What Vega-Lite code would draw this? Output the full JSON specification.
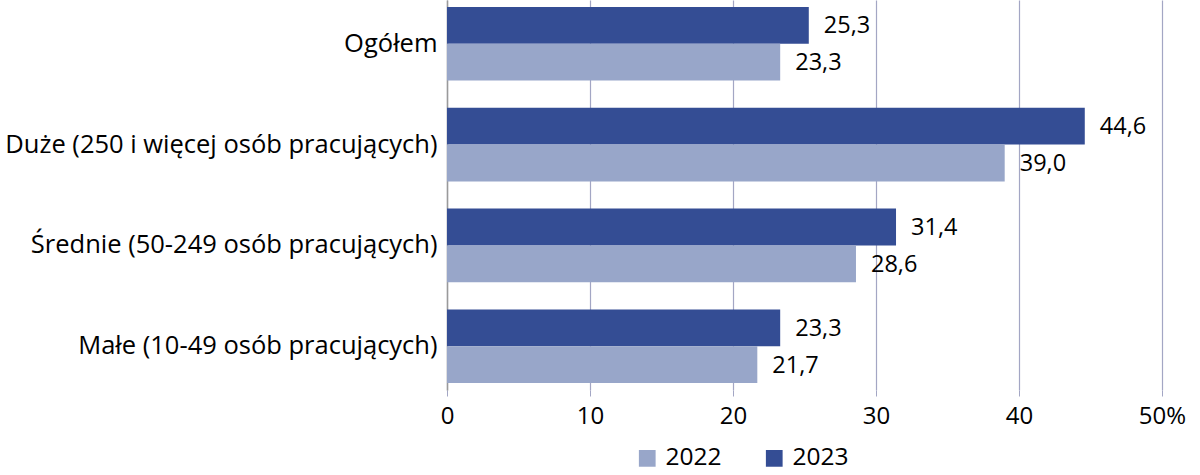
{
  "$schema": "https://vega.github.io/schema/vega-lite/v6.json",
  "autosize": {"type": "none"},
  "padding": {"left": 447, "top": 0, "right": 38, "bottom": 85},
  "width": 715,
  "height": 390,
  "background": "white",
  "config": {
    "view": {"stroke": null},
    "font": "Open Sans",
    "locale": {"number": {"decimal": ",", "thousands": " ", "grouping": [3], "currency": ["", " zł"]}}
  },
  "data": {
    "values": [
      {"kat": "Ogółem", "rok": "2023", "v": 25.3},
      {"kat": "Ogółem", "rok": "2022", "v": 23.3},
      {"kat": "Duże (250 i więcej osób pracujących)", "rok": "2023", "v": 44.6},
      {"kat": "Duże (250 i więcej osób pracujących)", "rok": "2022", "v": 39.0},
      {"kat": "Średnie (50-249 osób pracujących)", "rok": "2023", "v": 31.4},
      {"kat": "Średnie (50-249 osób pracujących)", "rok": "2022", "v": 28.6},
      {"kat": "Małe (10-49 osób pracujących)", "rok": "2023", "v": 23.3},
      {"kat": "Małe (10-49 osób pracujących)", "rok": "2022", "v": 21.7}
    ]
  },
  "encoding": {
    "y": {
      "field": "kat", "type": "nominal", "sort": null,
      "scale": {"paddingInner": 0.27, "paddingOuter": 0.07},
      "axis": {"title": null, "ticks": false, "labelFontSize": 25.5, "labelColor": "#000000", "labelPadding": 10, "labelLimit": 600, "domainColor": "#9a9a9a", "domainWidth": 1.5}
    },
    "yOffset": {"field": "rok", "type": "nominal", "sort": ["2023", "2022"]}
  },
  "layer": [
    {
      "mark": {"type": "bar"},
      "encoding": {
        "x": {
          "field": "v", "type": "quantitative",
          "scale": {"domain": [0, 50], "nice": false},
          "axis": {"title": null, "values": [0, 10, 20, 30, 40, 50], "domain": false, "grid": true, "gridColor": "#a3a6c4", "gridWidth": 1.2, "tickColor": "#a3a6c4", "tickSize": 6, "labelFontSize": 24, "labelColor": "#000000", "labelPadding": 8, "labelFlush": false, "labelOverlap": false, "labelExpr": "datum.value == 50 ? '50%' : datum.label"}
        },
        "color": {
          "field": "rok", "type": "nominal",
          "scale": {"domain": ["2022", "2023"], "range": ["#98a6c9", "#344d94"]},
          "legend": {"title": null, "orient": "none", "legendX": 188, "legendY": 446, "direction": "horizontal", "symbolType": "square", "symbolSize": 280, "symbolStrokeWidth": 0, "labelFontSize": 24.5, "labelColor": "#000000", "columnPadding": 40, "labelOffset": 6}
        }
      }
    },
    {
      "mark": {"type": "text", "align": "left", "baseline": "middle", "dx": 15, "dy": 1, "fontSize": 23.5, "color": "#000000"},
      "encoding": {
        "x": {"field": "v", "type": "quantitative"},
        "text": {"field": "v", "type": "quantitative", "format": ".1f", "formatType": "number"}
      }
    }
  ]
}
